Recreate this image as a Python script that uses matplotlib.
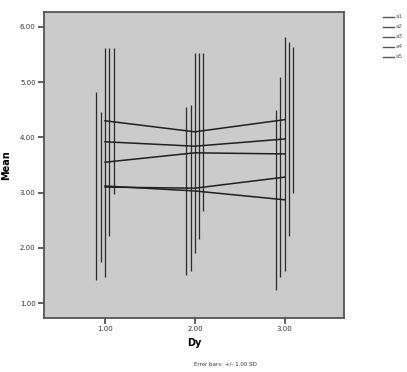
import matplotlib
matplotlib.use("Agg")
import matplotlib.pyplot as plt
import numpy as np

# categories on the x axis
categories = [1.0, 2.0, 3.0]
tick_labels = ["1.00", "2.00", "3.00"]
y_ticks = [1, 2, 3, 4, 5, 6]
series_names = ["a1", "a2", "a3", "a4", "a5"]

# means per series
mean_s1 = [4.30, 4.10, 4.32]
mean_s2 = [3.92, 3.84, 3.97]
mean_s3 = [3.55, 3.72, 3.70]
mean_s4 = [3.10, 3.08, 3.28]
mean_s5 = [3.12, 3.03, 2.87]

# standard deviations (error bars are +/- 1 SD)
sd_s1 = [1.32, 1.43, 1.32]
sd_s2 = [1.70, 1.68, 1.76]
sd_s3 = [2.07, 1.81, 2.12]
sd_s4 = [1.36, 1.50, 1.81]
sd_s5 = [1.70, 1.52, 1.63]

means = [mean_s1, mean_s2, mean_s3, mean_s4, mean_s5]
sds = [sd_s1, sd_s2, sd_s3, sd_s4, sd_s5]


def main() -> None:
    fig = plt.figure(figsize=(4.07, 3.72), dpi=100)
    ax = fig.add_axes([0.108, 0.145, 0.737, 0.823])
    ax.set_facecolor("#cbcbcb")

    x = np.array(categories)
    dodge = 0.048
    # bars sit left-to-right from series 5 to series 1
    for i, (m, s) in enumerate(zip(means, sds)):
        off = (2 - i) * dodge
        m = np.array(m)
        s = np.array(s)
        ax.vlines(x + off, m - s, m + s, color="#2a2a2a", lw=0.9, zorder=2)
        ax.plot(x, m, color="#202020", lw=1.1, zorder=3, label=series_names[i])

    ax.set_xlim(0.32, 3.66)
    ax.set_ylim(0.73, 6.27)
    ax.set_xticks(categories)
    ax.set_xticklabels(tick_labels, fontsize=5)
    ax.set_yticks(y_ticks)
    ax.set_yticklabels([f"{v:.2f}" for v in y_ticks], fontsize=5)
    ax.tick_params(direction="out", length=4, width=1.2, color="#444444",
                   labelcolor="#333333", pad=2)
    for sp in ax.spines.values():
        sp.set_color("#555555")
        sp.set_linewidth(1.3)

    ax.set_xlabel("Dy", fontsize=7, fontweight="bold", labelpad=4)
    ax.set_ylabel("Mean", fontsize=7, fontweight="bold", labelpad=6)

    fig.text(0.553, 0.016, "Error bars: +/- 1.00 SD", fontsize=4,
             ha="center", va="bottom", color="#333333")

    # legend in the top-right corner
    leg_y = [0.955, 0.928, 0.901, 0.874, 0.847]
    for yy, name in zip(leg_y, series_names):
        fig.lines.append(plt.Line2D([0.941, 0.968], [yy, yy],
                                    transform=fig.transFigure,
                                    color="#555555", lw=1.0))
        fig.text(0.971, yy, name, fontsize=4, va="center", color="#555555")

    fig.savefig("out.png", dpi=100)
    plt.close(fig)


if __name__ == "__main__":
    main()
